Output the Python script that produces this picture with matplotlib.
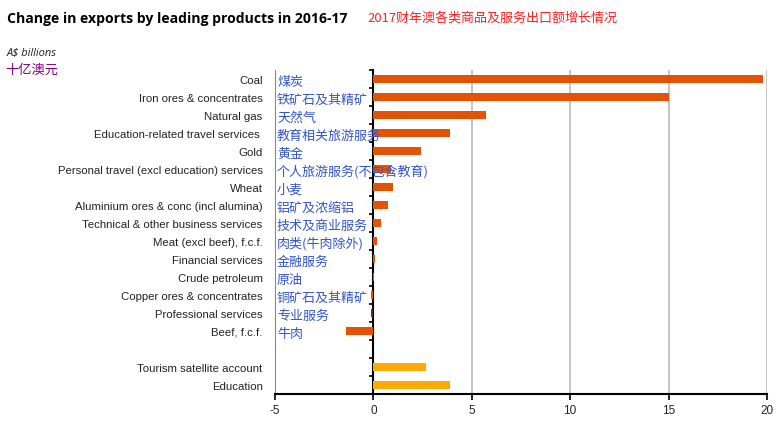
import matplotlib
matplotlib.use('Agg')
import matplotlib.pyplot as plt
import numpy as np

products = ['Coal', 'Iron ores & concentrates', 'Natural gas',
            'Education-related travel services ', 'Gold',
            'Personal travel (excl education) services', 'Wheat',
            'Aluminium ores & conc (incl alumina)',
            'Technical & other business services', 'Meat (excl beef), f.c.f.',
            'Financial services', 'Crude petroleum', 'Copper ores & concentrates',
            'Professional services', 'Beef, f.c.f.', '',
            'Tourism satellite account', 'Education']
products_cn = ['煤炭', '铁矿石及其精矿', '天然气', '教育相关旅游服务', '黄金',
               '个人旅游服务(不包含教育)', '小麦', '铝矿及浓缩铝', '技术及商业服务',
               '肉类(牛肉除外)', '金融服务', '原油', '铜矿石及其精矿', '专业服务',
               '牛肉', '', '', '']
change = [19.8, 15.0, 5.7, 3.9, 2.4, 0.9, 1.0, 0.75, 0.4, 0.2,
          0.07, 0.02, -0.1, -0.1, -1.4, 0.0, 2.65, 3.9]
colours = ['#E35205'] * 13 + ['#5A2D36', '#E35205', '#E35205', '#FFAA00', '#FFAA00']

fig = plt.figure(figsize=(7.77, 4.27), dpi=100)
ax = fig.add_axes([0.354, 0.075, 0.633, 0.759])

y = np.arange(len(products))
ax.barh(y, change, height=0.42, color=colours, zorder=3)
ax.set_ylim(len(products) - 0.5, -0.5)
ax.set_xlim(-5, 20)
ax.set_xticks([-5, 0, 5, 10, 15, 20])
ax.set_xticklabels(['-5', '0', '5', '10', '15', '20'], fontsize=8.5, family='Liberation Sans',
                   color='#222222')
ax.tick_params(axis='x', length=4, width=1.2, color='black')
ax.set_yticks(y)
ax.set_yticklabels(products, fontsize=8.2, family='Liberation Sans', color='#222222')
ax.tick_params(axis='y', length=0, pad=9)

for v in [5, 10, 15, 20]:
    ax.axvline(v, color='#BBBBBB', lw=1.2, zorder=1)

for s in ['top', 'right']:
    ax.spines[s].set_visible(False)
ax.spines['left'].set_color('#888888')
ax.spines['left'].set_linewidth(0.8)
ax.spines['bottom'].set_linewidth(1.5)

# zero axis with category ticks
zero = ax.secondary_yaxis(0.2)
zero.set_yticks(np.arange(len(products) + 1) - 0.5)
zero.set_yticklabels([])
zero.tick_params(length=3, width=1.2, direction='out')
zero.spines['left'].set_linewidth(1.5)

for i, t in enumerate(products_cn):
    if t:
        ax.text(0.004, i + 0.12, t, transform=ax.get_yaxis_transform(), ha='left',
                va='center', fontsize=9.4, color='#3355CC', family='Noto Sans CJK SC',
                zorder=5)

fig.text(0.009, 0.955, 'Change in exports by leading products in 2016-17',
         fontsize=10.1, fontweight='bold', family='Open Sans', va='center')
fig.text(0.473, 0.958, '2017财年澳各类商品及服务出口额增长情况', fontsize=9.4,
         color='#FF2020', family='Noto Sans CJK SC', va='center')
fig.text(0.008, 0.876, 'A$ billions', fontsize=8, style='italic',
         family='Open Sans', va='center', color='#222222')
fig.text(0.007, 0.835, '十亿澳元', fontsize=9.5, color='#800080',
         family='Noto Sans CJK SC', va='center')

fig.savefig('out.png', dpi=100)
